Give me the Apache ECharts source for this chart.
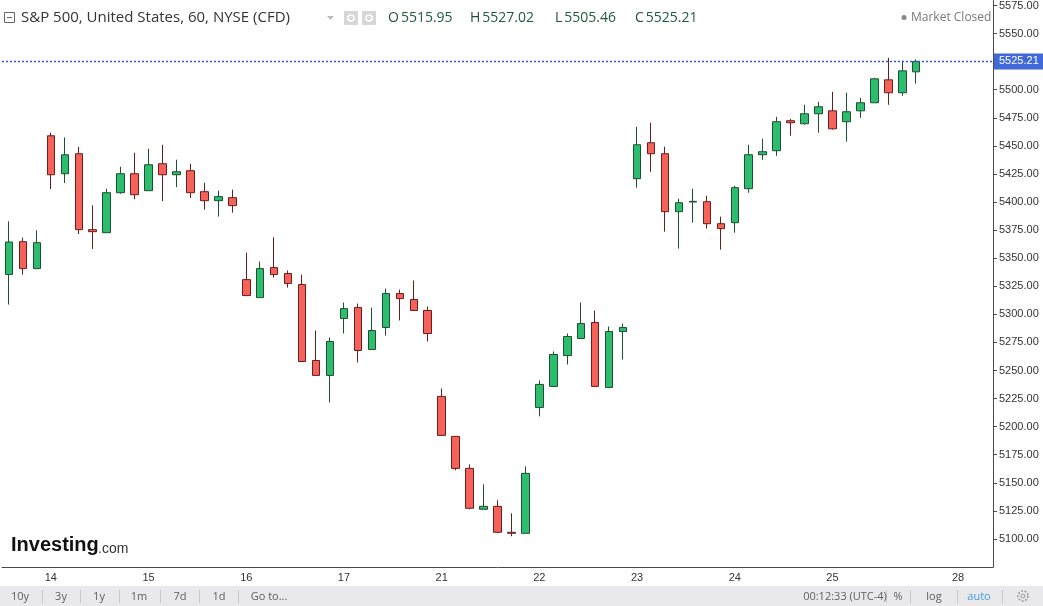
<!DOCTYPE html>
<html>
<head>
<meta charset="utf-8">
<title>S&amp;P 500</title>
<script src="https://cdn.jsdelivr.net/npm/echarts@6/dist/echarts.min.js"></script>
<style>
  html, body { margin: 0; padding: 0; background: #fff; }
  #main { width: 1043px; height: 606px; }
</style>
</head>
<body>
<div id="main"></div>
<script>
// hourly slots, one label per slot (day of month)
var categories = [
  '13','13','13',
  '14','14','14','14','14','14','14',
  '15','15','15','15','15','15','15',
  '16','16','16','16','16','16','16',
  '17','17','17','17','17','17','17',
  '21','21','21','21','21','21','21',
  '22','22','22','22','22','22','22',
  '23','23','23','23','23','23','23',
  '24','24','24','24','24','24','24',
  '25','25','25','25','25','25','25',
  '','','28','28','28'
];
// where the day labels sit on the axis
var dayTicks = [3, 10, 17, 24, 31, 38, 45, 52, 59, 68];

// open, close, low, high
var ohlc = [
  [5335.4, 5364.4, 5308.7, 5382.8],
  [5364.7, 5340.7, 5335.4, 5368.3],
  [5340.7, 5363.8, 5340.7, 5374.8],
  [5459.0, 5424.3, 5411.5, 5461.7],
  [5425.2, 5442.1, 5416.9, 5457.5],
  [5443.0, 5375.4, 5371.5, 5449.2],
  [5375.4, 5373.6, 5358.2, 5397.0],
  [5372.7, 5408.3, 5372.7, 5411.9],
  [5408.3, 5425.2, 5407.4, 5431.4],
  [5425.2, 5406.5, 5402.6, 5443.9],
  [5410.1, 5433.2, 5410.1, 5447.5],
  [5434.1, 5424.3, 5400.8, 5451.0],
  [5424.3, 5427.0, 5413.3, 5437.7],
  [5427.9, 5408.3, 5403.5, 5434.1],
  [5409.2, 5401.2, 5393.2, 5417.2],
  [5401.2, 5404.8, 5387.0, 5410.1],
  [5403.9, 5396.8, 5390.5, 5411.0],
  [5330.9, 5316.7, 5316.7, 5355.0],
  [5314.9, 5340.7, 5314.9, 5347.0],
  [5341.6, 5335.4, 5332.7, 5368.6],
  [5336.3, 5327.4, 5323.8, 5339.0],
  [5326.5, 5258.0, 5258.0, 5335.4],
  [5258.9, 5245.6, 5245.6, 5285.6],
  [5245.6, 5275.8, 5221.5, 5279.4],
  [5296.3, 5305.1, 5282.9, 5310.5],
  [5306.0, 5267.8, 5257.1, 5309.6],
  [5268.7, 5285.6, 5268.7, 5306.0],
  [5288.3, 5318.5, 5281.1, 5322.9],
  [5318.5, 5314.0, 5294.5, 5322.0],
  [5313.2, 5303.4, 5303.4, 5330.1],
  [5303.4, 5282.9, 5275.8, 5306.9],
  [5226.9, 5192.2, 5192.2, 5234.0],
  [5191.3, 5162.8, 5161.1, 5191.3],
  [5162.8, 5127.3, 5126.4, 5166.4],
  [5126.4, 5129.0, 5126.4, 5148.6],
  [5129.0, 5105.9, 5105.0, 5134.4],
  [5105.9, 5105.0, 5102.4, 5122.8],
  [5105.0, 5158.4, 5105.0, 5164.6],
  [5217.1, 5237.6, 5209.1, 5241.1],
  [5235.8, 5264.2, 5235.8, 5266.9],
  [5263.3, 5280.2, 5255.3, 5282.9],
  [5278.5, 5291.8, 5278.5, 5310.5],
  [5292.7, 5235.8, 5235.8, 5303.4],
  [5234.9, 5284.7, 5234.9, 5289.1],
  [5284.7, 5288.3, 5259.8, 5291.8],
  [5420.8, 5451.0, 5412.8, 5467.0],
  [5452.8, 5443.0, 5427.0, 5470.6],
  [5443.0, 5391.4, 5373.6, 5449.2],
  [5391.4, 5399.4, 5358.5, 5403.0],
  [5400.0, 5400.6, 5381.6, 5411.9],
  [5400.3, 5380.7, 5376.3, 5405.6],
  [5380.7, 5376.3, 5357.6, 5387.0],
  [5381.6, 5412.8, 5372.7, 5414.5],
  [5411.9, 5442.1, 5408.3, 5451.0],
  [5442.1, 5444.8, 5437.7, 5456.3],
  [5445.7, 5471.5, 5441.2, 5475.9],
  [5472.4, 5470.6, 5459.0, 5474.1],
  [5469.7, 5478.6, 5468.8, 5486.6],
  [5478.6, 5484.8, 5461.7, 5489.3],
  [5481.2, 5465.2, 5464.4, 5498.1],
  [5471.5, 5480.4, 5453.7, 5497.3],
  [5481.2, 5488.4, 5475.0, 5492.8],
  [5488.4, 5509.7, 5488.4, 5510.6],
  [5508.8, 5497.3, 5486.6, 5528.4],
  [5497.3, 5516.8, 5494.6, 5525.7],
  [5515.95, 5525.21, 5505.46, 5527.02]
];

var lastPrice = 5525.21;
var headerOHLC = [['O', '5515.95'], ['H', '5527.02'], ['L', '5505.46'], ['C', '5525.21']];
var rangeButtons = ['10y', '3y', '1y', '1m', '7d', '1d', 'Go to...'];

var myChart = echarts.init(document.getElementById('main'));

var uiFont = '"Open Sans", "DejaVu Sans", sans-serif';
var numFont = '"Liberation Sans", Arial, sans-serif';

// 头部、logo、底部工具栏
var graphics = [];
graphics.push({
  type: 'rect', shape: { x: 4.5, y: 12.5, width: 10, height: 10 },
  style: { fill: 'none', stroke: '#666', lineWidth: 1 }
});
graphics.push({
  type: 'line', shape: { x1: 7, y1: 17.5, x2: 12, y2: 17.5 },
  style: { stroke: '#666', lineWidth: 1 }
});
graphics.push({
  type: 'text', x: 21, y: 18,
  style: { text: 'S&P 500, United States, 60, NYSE (CFD)', font: '15px ' + uiFont, fill: '#333', verticalAlign: 'middle' }
});
graphics.push({
  type: 'polygon', shape: { points: [[327, 16], [334, 16], [330.5, 20]] },
  style: { fill: '#bbb' }
});
[344, 362].forEach(function (x) {
  graphics.push({ type: 'rect', shape: { x: x, y: 11, width: 14, height: 14 }, style: { fill: '#d6d6d6' } });
  graphics.push({ type: 'circle', shape: { cx: x + 7, cy: 18, r: 3 }, style: { fill: 'none', stroke: '#fff', lineWidth: 1.5 } });
});
var ohlcX = [388, 470, 555, 635];
headerOHLC.forEach(function (p, i) {
  graphics.push({
    type: 'text', x: ohlcX[i], y: 18,
    style: {
      text: '{k|' + p[0] + '}{v|' + p[1] + '}',
      verticalAlign: 'middle',
      rich: {
        k: { font: '14px ' + uiFont, fill: '#2b4a3a', padding: [0, 2, 0, 0] },
        v: { font: '14px ' + uiFont, fill: '#1f5a3e' }
      }
    }
  });
});
graphics.push({ type: 'circle', shape: { cx: 904, cy: 17.5, r: 2.5 }, style: { fill: '#888' } });
graphics.push({
  type: 'text', x: 911, y: 17.5,
  style: { text: 'Market Closed', font: '12px ' + uiFont, fill: '#777', verticalAlign: 'middle' }
});

// Investing.com
graphics.push({
  type: 'text', x: 11, y: 545,
  style: { text: 'Investing', font: 'bold 20px ' + numFont, fill: '#111', verticalAlign: 'middle' }
});
graphics.push({
  type: 'text', x: 98, y: 549,
  style: { text: '.com', font: '14px ' + numFont, fill: '#333', verticalAlign: 'middle' }
});

// toolbar
graphics.push({ type: 'rect', shape: { x: 0, y: 586, width: 1043, height: 20 }, style: { fill: '#e9e9ec' } });
var btnX = [20, 61, 99, 139, 180, 219, 269];
rangeButtons.forEach(function (t, i) {
  graphics.push({
    type: 'text', x: btnX[i], y: 597,
    style: { text: t, font: '11px ' + uiFont, fill: '#5f5f5f', align: 'center', verticalAlign: 'middle' }
  });
});
[42, 80, 119, 160, 199, 238, 886, 910, 957, 1002].forEach(function (x) {
  graphics.push({ type: 'line', shape: { x1: x + 0.5, y1: 590, x2: x + 0.5, y2: 603 }, style: { stroke: '#c8c8cc', lineWidth: 1 } });
});
graphics.push({ type: 'text', x: 845, y: 597, style: { text: '00:12:33 (UTC-4)', font: '11px ' + uiFont, fill: '#5f5f5f', align: 'center', verticalAlign: 'middle' } });
graphics.push({ type: 'text', x: 898, y: 597, style: { text: '%', font: '11px ' + uiFont, fill: '#5f5f5f', align: 'center', verticalAlign: 'middle' } });
graphics.push({ type: 'text', x: 934, y: 597, style: { text: 'log', font: '11px ' + uiFont, fill: '#5f5f5f', align: 'center', verticalAlign: 'middle' } });
graphics.push({ type: 'text', x: 979, y: 597, style: { text: 'auto', font: '11px ' + uiFont, fill: '#3d9ee0', align: 'center', verticalAlign: 'middle' } });
graphics.push({ type: 'circle', shape: { cx: 1023, cy: 596, r: 5 }, style: { fill: 'none', stroke: '#999', lineWidth: 1.5, lineDash: [2, 1.5] } });
graphics.push({ type: 'circle', shape: { cx: 1023, cy: 596, r: 2 }, style: { fill: '#e9e9ec', stroke: '#999', lineWidth: 1 } });

var option = {
  backgroundColor: '#fff',
  animation: false,
  grid: { left: 2, right: 50, top: 0, bottom: 39 },
  xAxis: {
    type: 'category',
    data: categories,
    boundaryGap: true,
    axisLine: { lineStyle: { color: '#4a4a4a', width: 1 } },
    axisTick: {
      alignWithLabel: true, length: 4,
      interval: function (i) { return dayTicks.indexOf(i) >= 0; },
      lineStyle: { color: '#4a4a4a' }
    },
    axisLabel: {
      interval: function (i) { return dayTicks.indexOf(i) >= 0; },
      color: '#333', fontSize: 11, fontFamily: numFont, margin: 5
    },
    splitLine: { show: false }
  },
  yAxis: {
    type: 'value',
    position: 'right',
    min: 5075,
    max: 5579.35,
    interval: 25,
    scale: true,
    axisLine: { show: true, lineStyle: { color: '#4a4a4a', width: 1 } },
    axisTick: { show: true, length: 4, lineStyle: { color: '#4a4a4a' } },
    axisLabel: {
      showMinLabel: false, showMaxLabel: false,
      color: '#333', fontSize: 11, fontFamily: numFont, margin: 6,
      formatter: function (v) { return v.toFixed(2); }
    },
    splitLine: { show: false }
  },
  series: [{
    type: 'candlestick',
    data: ohlc,
    barWidth: 8,
    itemStyle: {
      color: '#2dbd6e',
      color0: '#f4625a',
      borderColor: '#1d4f30',
      borderColor0: '#6b1d1d',
      borderWidth: 1
    }
  }, {
    // 最新价虚线
    type: 'line',
    name: 'last',
    data: [],
    color: '#3358cc',
    markLine: {
      silent: true,
      symbol: 'none',
      lineStyle: { color: '#3358cc', type: [2, 2], width: 1.3 },
      label: {
        position: 'end', distance: 1,
        formatter: lastPrice.toFixed(2),
        backgroundColor: '#4169d8', color: '#fff',
        fontSize: 11, fontFamily: numFont,
        padding: [3, 6, 2, 5]
      },
      data: [{ yAxis: lastPrice }]
    }
  }],
  graphic: graphics
};

myChart.setOption(option);
</script>
</body>
</html>
